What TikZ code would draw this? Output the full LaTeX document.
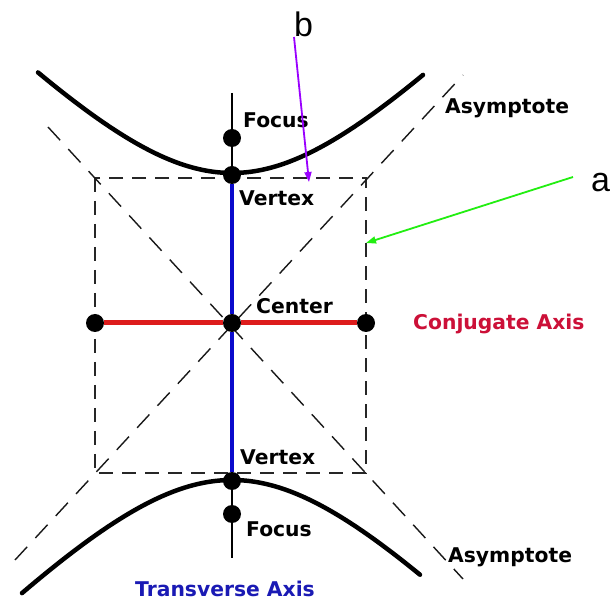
\documentclass[tikz,border=0pt]{standalone}
\usepackage{fontspec}
\setmainfont{DejaVu Sans}
\newfontfamily\arialfont{Liberation Sans}
\usetikzlibrary{arrows.meta}
\definecolor{axisred}{HTML}{DD1C1C}
\definecolor{axisblue}{HTML}{0A0ACC}
\definecolor{conjred}{HTML}{CC1038}
\definecolor{transblue}{HTML}{1A1AB4}
\definecolor{violetarrow}{HTML}{9A00FF}
\definecolor{greenarrow}{HTML}{22EE11}
\begin{document}
\begin{tikzpicture}[x=1pt,y=-1pt,
  dot/.style={circle,fill=black,inner sep=0pt,minimum size=18pt},
  lbl/.style={font=\fontsize{20.3}{22}\selectfont\bfseries,anchor=base west,inner sep=0pt},
  letter/.style={font=\arialfont\fontsize{34}{36}\selectfont,anchor=base west,inner sep=0pt},
  boxdash/.style={draw=black!85,dash pattern=on 14pt off 9pt,line width=1.2pt},
  asydash/.style={draw=black!90,dash pattern=on 18pt off 12pt,line width=1.4pt},
  branch/.style={line width=4.5pt,line cap=round},
  pointer/.style={line width=1.8pt,-{Triangle[length=10pt,width=7pt]}},
]
\useasboundingbox[fill=white] (0,0) rectangle (611,601);

% guide box
\draw[boxdash] (95,178) rectangle (366,473);
% asymptotes
\draw[asydash] (48,127) -- (463,579);
\draw[asydash] (15,560) -- (463,75);
% hyperbola branches
\draw[branch] plot[domain=38:423,samples=80,smooth] (\x,{323-150*sqrt(1+((\x-232)/145)^2)});
\draw[branch] plot[domain=22:420,samples=80,smooth] (\x,{323+157*sqrt(1+((\x-232)/150)^2)});

% points
\node[dot] (cen) at (232,323) {};
\node[dot] (vtop) at (232,175) {};
\node[dot] (vbot) at (232,481) {};
\node[dot] (ftop) at (232,138) {};
\node[dot] (fbot) at (232,514) {};
\node[dot] (cl) at (95,323) {};
\node[dot] (cr) at (366,323) {};
\coordinate (axtop) at (232,93);
\coordinate (axbot) at (232,558);

% axes
\draw[line width=1.8pt] (axtop) -- (ftop);
\draw[line width=1.8pt] (ftop) -- (vtop);
\draw[line width=1.8pt] (vbot) -- (fbot);
\draw[line width=1.8pt] (fbot) -- (axbot);
\draw[axisblue,line width=4pt] (vtop) -- (cen);
\draw[axisblue,line width=4pt] (cen) -- (vbot);
\draw[axisred,line width=5pt] (cl) -- (cen);
\draw[axisred,line width=5pt] (cen) -- (cr);

% labels
\node[lbl] (lfocustop) at (243,128) {Focus};
\node[lbl] (lvertextop) at (239,206) {Vertex};
\node[lbl] (lcenter) at (256,314) {Center};
\node[lbl] (lvertexbot) at (240,465) {Vertex};
\node[lbl] (lfocusbot) at (246,537) {Focus};
\node[lbl,text=conjred] (lconj) at (413,330) {Conjugate Axis};
\node[lbl,text=transblue] (ltrans) at (135,596) {Transverse Axis};
\node[lbl] (lasytop) at (445,114) {Asymptote};
\node[lbl] (lasybot) at (448,562) {Asymptote};

% annotation letters and pointers
\node[letter] (b) at (294,37) {b};
\node[letter] (a) at (591,192) {a};
\coordinate (btip) at (309,182);
\coordinate (astart) at (573,177);
\coordinate (atip) at (366,243);
\draw[pointer,violetarrow] (b.base west) -- (btip);
\draw[pointer,greenarrow] (astart) -- (atip);
\end{tikzpicture}
\end{document}
